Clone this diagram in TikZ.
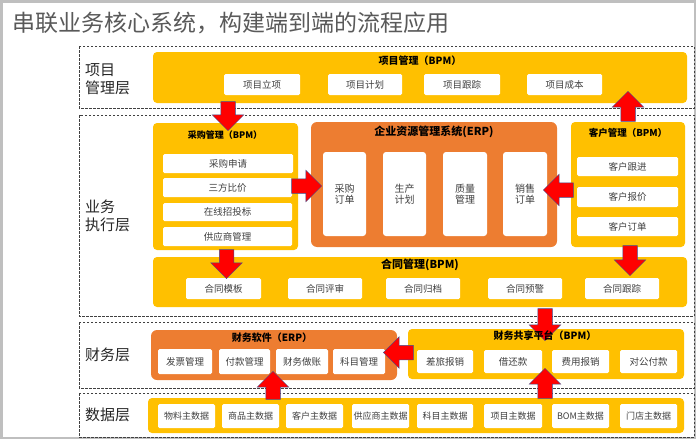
\documentclass[tikz,border=0pt]{standalone}
\usepackage{fontspec}
\setmainfont{Noto Sans CJK SC}
\usetikzlibrary{shapes.arrows}
\definecolor{ylw}{HTML}{FFC000}
\definecolor{org}{HTML}{ED7D31}
\definecolor{txt}{HTML}{404040}
\definecolor{ttl}{HTML}{595959}
\definecolor{frm}{HTML}{BFBFBF}
\definecolor{aedge}{HTML}{3F4F8F}
\newcommand\mybox[7]{\node[#1, minimum width={(#5-#3)*1pt}, minimum height={(#6-#4)*1pt}] (#2) at ({(#3+#5)/2},{-(#4+#6)/2}) {#7};}
\tikzset{
  layerbox/.style={draw=txt, dashed, dash pattern=on 2.5pt off 1.5pt, line width=0.6pt},
  ybox/.style={fill=ylw, rounded corners=4pt, inner sep=0pt},
  obox/.style={fill=org, rounded corners=6pt, inner sep=0pt},
  item/.style={fill=white, rounded corners=1.5pt, inner sep=0pt, text=txt, font=\fontsize{9.5}{11}\selectfont},
  ditem/.style={item, font=\fontsize{9}{11}\selectfont},
  col/.style={fill=white, rounded corners=3pt, inner sep=0pt, text=txt, align=center, font=\fontsize{10}{11}\selectfont},
  btitle/.style={font=\bfseries\fontsize{#1}{12}\selectfont, text=black, inner sep=0pt},
  lyr/.style={anchor=west, align=left, font=\fontsize{15}{18}\selectfont, text=black!85, inner sep=0pt},
  barrow/.style={single arrow, fill=red, draw=aedge, line width=0.5pt, inner sep=7pt, single arrow head extend=8.5pt, minimum height=#1},
}
\begin{document}
\begin{tikzpicture}[x=1pt,y=1pt]
\useasboundingbox (0,0) rectangle (696,-439);
\draw[frm, line width=2.5pt] (1.25,-1.25) rectangle (694.75,-437.75);
\node[anchor=west, inner sep=0pt, text=ttl, font=\fontsize{23}{26}\selectfont] (title) at (12,-23) {串联业务核心系统，构建端到端的流程应用};
% layers
\draw[layerbox] (79,-46) rectangle (694,-108);
\draw[layerbox] (79,-115) rectangle (694,-316);
\draw[layerbox] (79,-322) rectangle (694,-388);
\draw[layerbox] (79,-393) rectangle (694,-437);
\node[lyr] (l1) at (85,-79) {项目\\管理层};
\node[lyr] (l2) at (85,-216) {业务\\执行层};
\node[lyr] (l3) at (85,-355) {财务层};
\node[lyr] (l4) at (85,-415) {数据层};
% project layer
\mybox{ybox}{pm}{153}{52}{687}{103}{}
\node[btitle=10] (pmt) at (420,-61) {项目管理（BPM）};
\mybox{item}{p1}{224}{74}{300}{95}{项目立项}
\mybox{item}{p2}{328}{74}{402}{95}{项目计划}
\mybox{item}{p3}{424}{74}{500}{95}{项目跟踪}
\mybox{item}{p4}{527}{74}{602}{95}{项目成本}
% purchase
\mybox{ybox}{cg}{153}{123}{298}{250}{}
\node[btitle=9] (cgt) at (225,-135) {采购管理（BPM）};
\mybox{item}{c1}{163}{154}{293}{173}{采购申请}
\mybox{item}{c2}{163}{178}{292}{197}{三方比价}
\mybox{item}{c3}{163}{203}{292}{221}{在线招投标}
\mybox{item}{c4}{163}{227}{292}{246}{供应商管理}
% ERP
\mybox{obox}{erp}{311}{122}{557}{247}{}
\node[btitle=11] (erpt) at (434,-132) {企业资源管理系统(ERP)};
\mybox{col}{e1}{323}{152}{366}{236}{采购\\订单}
\mybox{col}{e2}{383}{152}{426}{236}{生产\\计划}
\mybox{col}{e3}{443}{152}{487}{236}{质量\\管理}
\mybox{col}{e4}{503}{152}{547}{236}{销售\\订单}
% customer
\mybox{ybox}{kh}{571}{122}{685}{247}{}
\node[btitle=9.5] (kht) at (628,-133) {客户管理（BPM）};
\mybox{item}{k1}{577}{157}{678}{176}{客户跟进}
\mybox{item}{k2}{577}{187}{678}{207}{客户报价}
\mybox{item}{k3}{577}{217}{678}{236}{客户订单}
% contract
\mybox{ybox}{ht}{153}{257}{687}{307}{}
\node[btitle=11] (htt) at (420,-265) {合同管理(BPM)};
\mybox{item}{h1}{186}{278}{261}{299}{合同模板}
\mybox{item}{h2}{288}{278}{362}{299}{合同评审}
\mybox{item}{h3}{386}{278}{460}{299}{合同归档}
\mybox{item}{h4}{488}{278}{562}{299}{合同预警}
\mybox{item}{h5}{585}{278}{659}{299}{合同跟踪}
% finance software
\mybox{obox}{cw}{151}{330}{397}{380}{}
\node[btitle=10] (cwt) at (272,-338) {财务软件（ERP）};
\mybox{item}{f1}{158}{349}{212}{374}{发票管理}
\mybox{item}{f2}{219}{349}{270}{374}{付款管理}
\mybox{item}{f3}{276}{349}{328}{374}{财务做账}
\mybox{item}{f4}{333}{349}{385}{374}{科目管理}
% shared finance
\mybox{ybox}{gx}{408}{329}{684}{379}{}
\mybox{item}{g1}{417}{350}{473}{373}{差旅报销}
\mybox{item}{g2}{484}{350}{542}{373}{借还款}
\mybox{item}{g3}{552}{350}{609}{373}{费用报销}
\mybox{item}{g4}{620}{350}{677}{373}{对公付款}
% data
\mybox{ybox}{sj}{148}{398}{684}{433}{}
\mybox{ditem}{d1}{158}{404}{215}{428}{物料主数据}
\mybox{ditem}{d2}{222}{404}{279}{428}{商品主数据}
\mybox{ditem}{d3}{286}{404}{343}{428}{客户主数据}
\mybox{ditem}{d4}{352}{404}{409}{428}{供应商主数据}
\mybox{ditem}{d5}{417}{404}{473}{428}{科目主数据}
\mybox{ditem}{d6}{484}{404}{542}{428}{项目主数据}
\mybox{ditem}{d7}{552}{404}{609}{428}{BOM主数据}
\mybox{ditem}{d8}{620}{404}{677}{428}{门店主数据}
% block arrows
\node[barrow=29pt, rotate=-90] (a1) at (228,-112.5) {};
\node[barrow=30pt, rotate=90] (a2) at (628,-110) {};
\node[barrow=30pt] (a3) at (303,-186) {};
\node[barrow=30pt, rotate=180] (a4) at (562,-190) {};
\node[barrow=29pt, rotate=-90] (a5) at (226.5,-260.5) {};
\node[barrow=30pt, rotate=-90] (a6) at (630,-257) {};
\node[barrow=32pt, rotate=-90] (a7) at (545,-321) {};
\node[barrow=30pt, rotate=180] (a8) at (402,-352.5) {};
\node[barrow=28pt, rotate=90] (a9) at (273,-389) {};
\node[barrow=30pt, rotate=90] (a10) at (545,-387) {};
% title drawn over the arrow
\node[btitle=10] (gxt) at (545,-336) {财务共享平台（BPM）};
\end{tikzpicture}
\end{document}
